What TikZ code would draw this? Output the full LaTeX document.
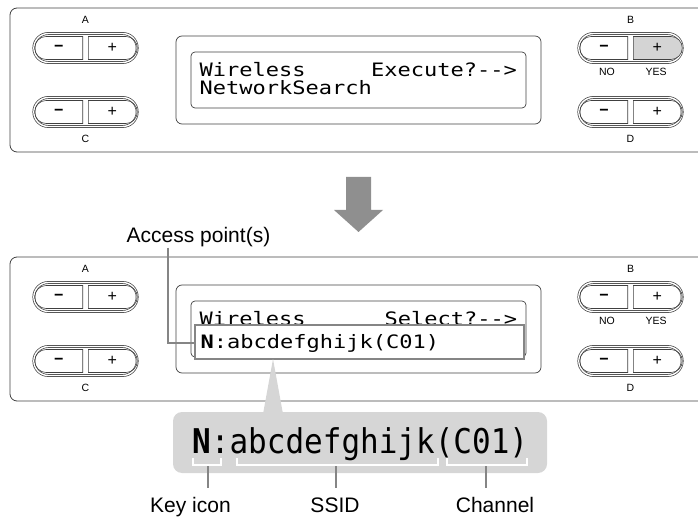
\documentclass[tikz,border=0pt]{standalone}
\usepackage{fontspec}
\setmainfont{Liberation Sans}
\setmonofont{DejaVu Sans Mono}
\usepackage{graphicx}
\usepackage{tikz}
\usetikzlibrary{shapes,calc,positioning}
\definecolor{linegray}{gray}{0.25}
\definecolor{leadgray}{gray}{0.52}
\definecolor{bubgray}{gray}{0.84}
\definecolor{arrowgray}{gray}{0.56}
\definecolor{yesgray}{gray}{0.83}
\newcommand{\minussign}{\textbf{−}}
\newcommand{\lcdrow}[1]{\scalebox{1}[0.84]{#1}}
\newcommand{\bigrow}[1]{\scalebox{1}[1.1]{#1}}
\tikzset{
    panel/.style={
        draw=linegray,
        line width=0.8pt,
        rounded corners=7pt
    },
    lcdframe/.style={
        draw=linegray,
        line width=0.7pt,
        rounded corners=6pt
    },
    pill/.style={
        rounded rectangle,
        draw=linegray,
        double,
        double distance=1.4pt,
        line width=0.7pt,
        minimum width=110pt,
        minimum height=29pt
    },
    btnleft/.style={
        rounded rectangle,
        rounded rectangle right arc=none,
        draw=linegray, line width=0.6pt,
        minimum width=48pt, minimum height=23pt,
        inner sep=0pt,
        font=\fontsize{16}{16}\selectfont
    },
    btnright/.style={
        rounded rectangle,
        rounded rectangle left arc=none,
        draw=linegray, line width=0.6pt,
        minimum width=49pt, minimum height=23pt,
        inner sep=0pt,
        font=\fontsize{16}{16}\selectfont
    },
    keylbl/.style={
        inner sep=0pt,
        font=\fontsize{10.5}{10.5}\selectfont
    },
    lcdtext/.style={
        anchor=base west, inner sep=0pt,
        font=\ttfamily\fontsize{22}{22}\selectfont
    },
    hlbox/.style={
        draw=leadgray, fill=white,
        line width=1.5pt,
        minimum width=329pt, minimum height=34pt
    },
    leader/.style={
        draw=leadgray,
        line width=1.5pt
    },
    bracket/.style={
        draw=white,
        line width=1.5pt
    },
    callout/.style={
        anchor=base, inner sep=0pt,
        font=\fontsize{21}{21}\selectfont
    }
}

\begin{document}
\begin{tikzpicture}[x=1pt, y=-1pt]
    \useasboundingbox (0,0) rectangle (698,518);

    % top panel
    \draw[panel] (698,8) -- (10,8) -- (10,152) -- (698,152);
    \draw[lcdframe] (176,36) rectangle (541,124);
    \draw[lcdframe, rounded corners=4pt] (191,52) rectangle (526,108);
    \node[lcdtext] (lcdW) at (199.5,77) {\lcdrow{Wireless}};
    \node[lcdtext] (lcdE) at (371,77) {\lcdrow{Execute?-\kern0pt->}};
    \node[lcdtext] (lcdN) at (199.5,95) {\lcdrow{NetworkSearch}};

    \node[pill] (pillA) at (85.5,48) {};
    \node[btnleft, anchor=east] (minusA) at ([xshift=-2.5pt]pillA.center) {\minussign};
    \node[btnright, anchor=west] (plusA) at ([xshift=2.5pt]pillA.center) {+};
    \node[keylbl] (lblA) at (85.5,20) {A};

    \node[pill] (pillC) at (85.5,112) {};
    \node[btnleft, anchor=east] (minusC) at ([xshift=-2.5pt]pillC.center) {\minussign};
    \node[btnright, anchor=west] (plusC) at ([xshift=2.5pt]pillC.center) {+};
    \node[keylbl] (lblC) at (85.5,139) {C};

    \node[pill] (pillB) at (630.5,48) {};
    \node[btnleft, anchor=east] (minusB) at ([xshift=-2.5pt]pillB.center) {\minussign};
    \node[btnright, anchor=west, fill=yesgray] (plusB) at ([xshift=2.5pt]pillB.center) {+};
    \node[keylbl] (lblB) at (630.5,20) {B};
    \node[keylbl] (lblNo) at (607,72) {NO};
    \node[keylbl] (lblYes) at (656,72) {YES};

    \node[pill] (pillD) at (630.5,112) {};
    \node[btnleft, anchor=east] (minusD) at ([xshift=-2.5pt]pillD.center) {\minussign};
    \node[btnright, anchor=west] (plusD) at ([xshift=2.5pt]pillD.center) {+};
    \node[keylbl] (lblD) at (630.5,139) {D};

    % arrow between the panels
    \fill[arrowgray] (346,177) -- (371,177) -- (371,210) -- (383,210)
        -- (358.5,232) -- (334,210) -- (346,210) -- cycle;

    % bottom panel
    \draw[panel] (698,257) -- (10,257) -- (10,401) -- (698,401);
    \draw[lcdframe] (176,285) rectangle (541,373);
    \draw[lcdframe, rounded corners=4pt] (191,301) rectangle (526,357);
    \node[lcdtext] (lcdW2) at (199.5,326) {\lcdrow{Wireless}};
    \node[lcdtext] (lcdS2) at (384.5,326) {\lcdrow{Select?-\kern0pt->}};
    \node[hlbox] (hl) at (359.5,342) {};
    \node[lcdtext] (lcdAP) at (200.5,348) {\lcdrow{\textbf{N}:abcdefghijk(C01)}};

    \node[pill] (pillA2) at (85.5,297) {};
    \node[btnleft, anchor=east] (minusA2) at ([xshift=-2.5pt]pillA2.center) {\minussign};
    \node[btnright, anchor=west] (plusA2) at ([xshift=2.5pt]pillA2.center) {+};
    \node[keylbl] (lblA2) at (85.5,269) {A};

    \node[pill] (pillC2) at (85.5,361) {};
    \node[btnleft, anchor=east] (minusC2) at ([xshift=-2.5pt]pillC2.center) {\minussign};
    \node[btnright, anchor=west] (plusC2) at ([xshift=2.5pt]pillC2.center) {+};
    \node[keylbl] (lblC2) at (85.5,388) {C};

    \node[pill] (pillB2) at (630.5,297) {};
    \node[btnleft, anchor=east] (minusB2) at ([xshift=-2.5pt]pillB2.center) {\minussign};
    \node[btnright, anchor=west] (plusB2) at ([xshift=2.5pt]pillB2.center) {+};
    \node[keylbl] (lblB2) at (630.5,269) {B};
    \node[keylbl] (lblNo2) at (607,321) {NO};
    \node[keylbl] (lblYes2) at (656,321) {YES};

    \node[pill] (pillD2) at (630.5,361) {};
    \node[btnleft, anchor=east] (minusD2) at ([xshift=-2.5pt]pillD2.center) {\minussign};
    \node[btnright, anchor=west] (plusD2) at ([xshift=2.5pt]pillD2.center) {+};
    \node[keylbl] (lblD2) at (630.5,388) {D};

    % access point callout
    \node[callout] (apLbl) at (198.5,243) {Access point(s)};
    \coordinate (apKnee) at (168,343);
    \draw[leader] (apKnee |- apLbl.south) -- (apKnee) -- (hl.west |- apKnee);

    % enlarged line
    \coordinate (ptr) at (273,359);
    \fill[bubgray] (ptr) -- (263,414) -- (283,414) -- cycle;
    \node[fill=bubgray, rounded corners=9pt, minimum width=374pt,
        minimum height=61pt] (bub) at (360,442.5) {};
    \node[lcdtext, font=\ttfamily\fontsize{31}{31}\selectfont] (bigAP)
        at (192,453) {\bigrow{\textbf{N}:abcdefghijk(C01)}};

    \draw[bracket] (193,458) -- (193,465) -- (221,465) -- (221,458);
    \draw[bracket] (237,458) -- (237,465) -- (438,465) -- (438,458);
    \draw[bracket] (447,458) -- (447,465) -- (527,465) -- (527,458);
    \coordinate (keyBr) at (208,466);
    \coordinate (ssidBr) at (336,466);
    \coordinate (chanBr) at (486,466);

    \node[callout] (keyLbl) at (190.5,512) {Key icon};
    \node[callout] (ssidLbl) at (335,512) {SSID};
    \node[callout] (chanLbl) at (495,512) {Channel};
    \draw[leader, shorten >=9pt] (keyBr) -- (keyBr |- keyLbl.north);
    \draw[leader, shorten >=9pt] (ssidBr) -- (ssidBr |- ssidLbl.north);
    \draw[leader, shorten >=9pt] (chanBr) -- (chanBr |- chanLbl.north);
\end{tikzpicture}
\end{document}
